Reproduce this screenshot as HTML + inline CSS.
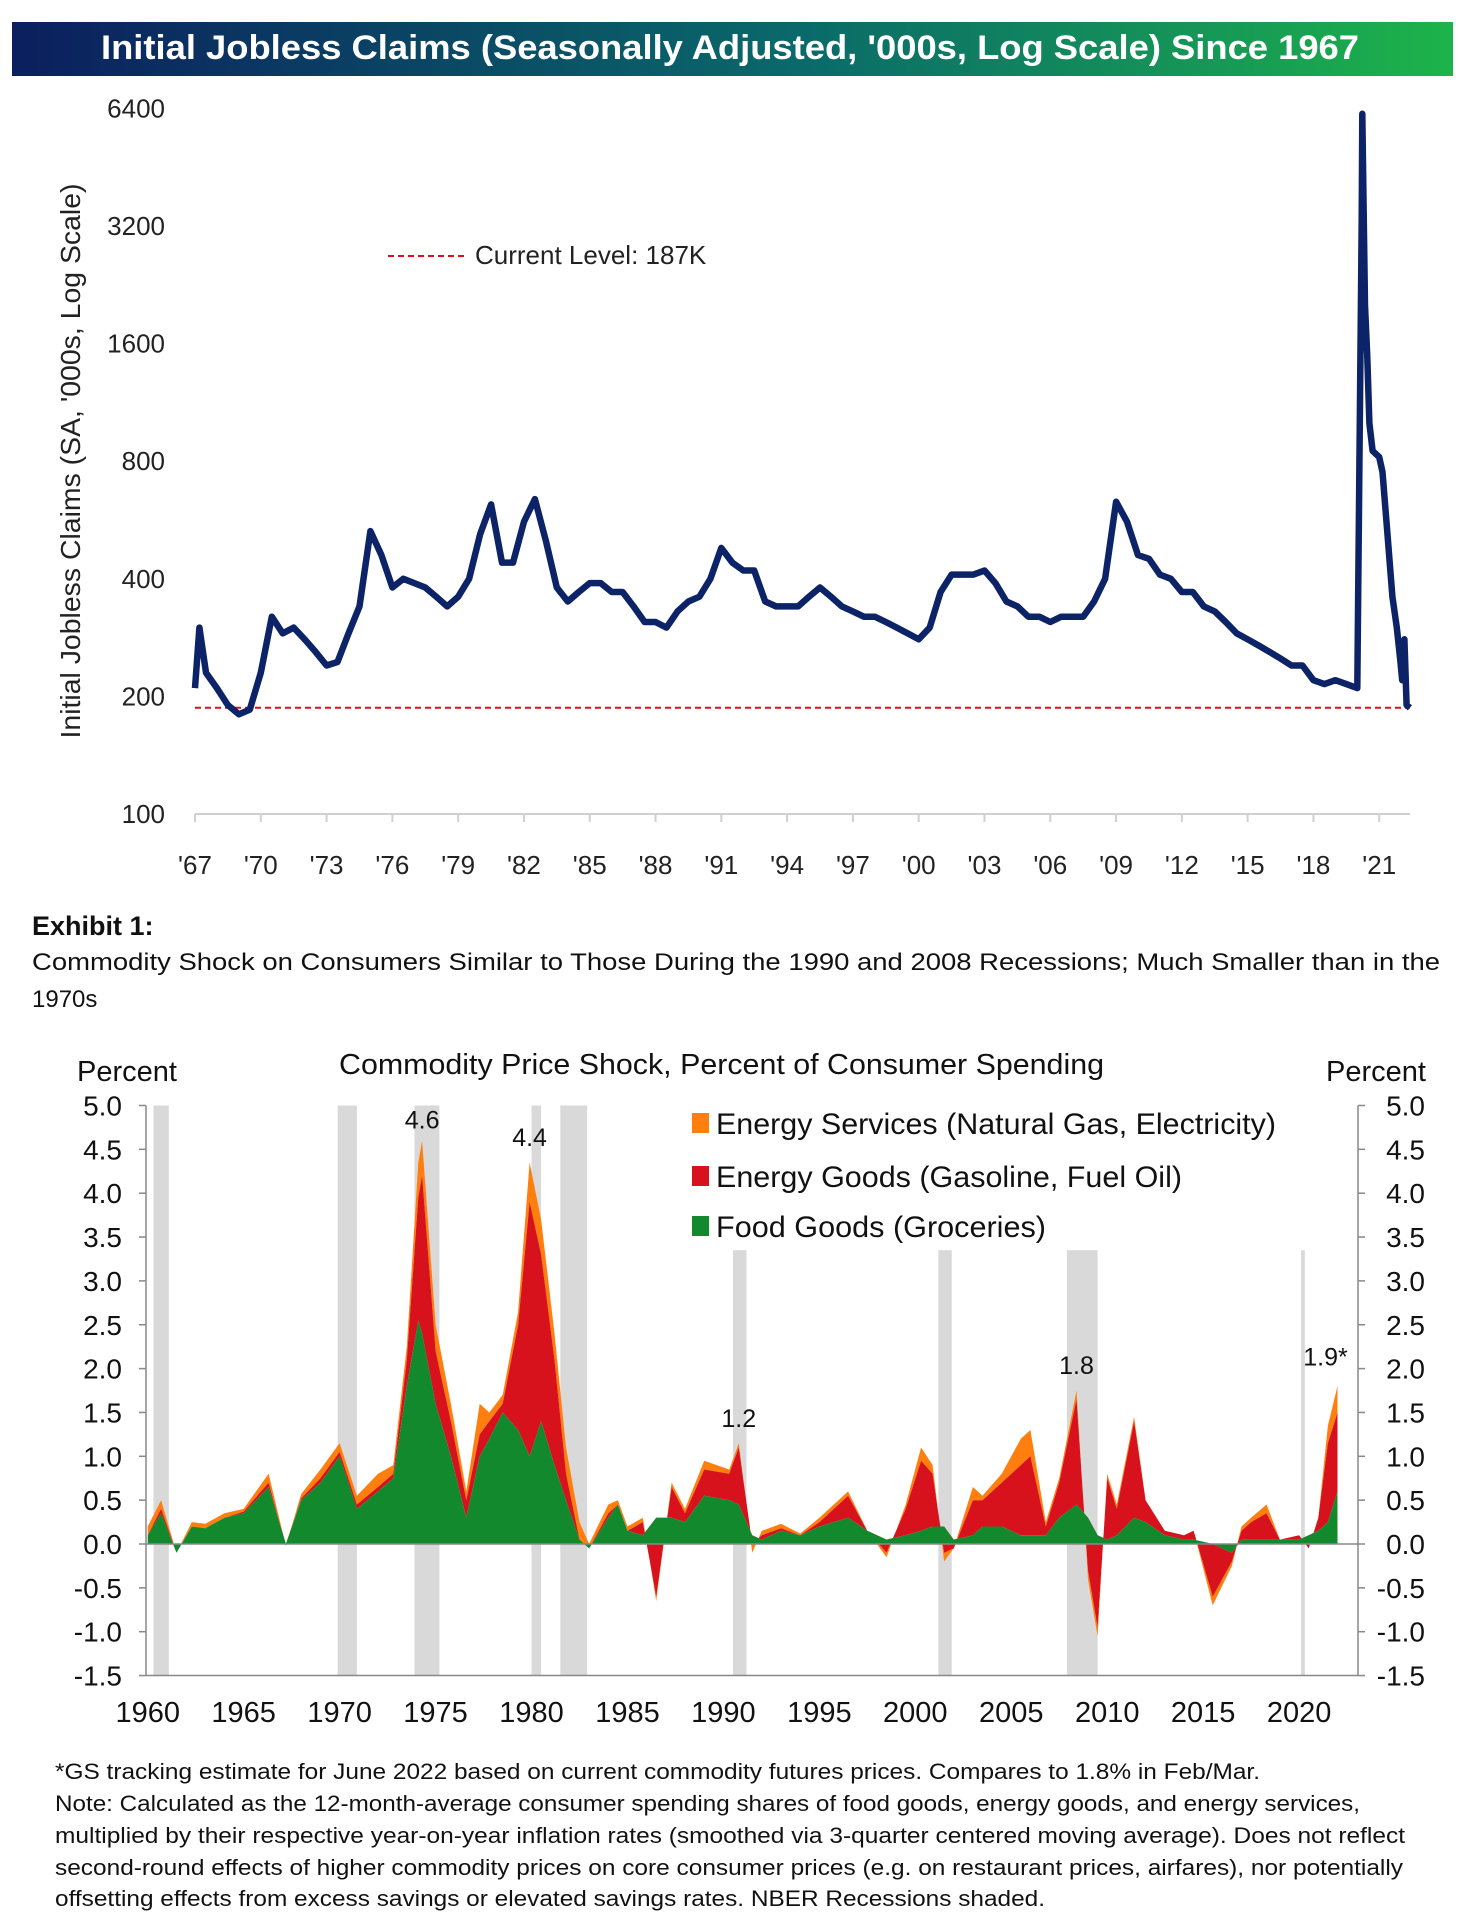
<!DOCTYPE html>
<html><head><meta charset="utf-8">
<style>
html,body{margin:0;padding:0;background:#fff;}
svg{display:block;font-family:"Liberation Sans",sans-serif;}
</style></head>
<body>
<svg id="root" width="1465" height="1928" viewBox="0 0 1465 1928" xmlns="http://www.w3.org/2000/svg">
<defs>
<linearGradient id="tg" x1="0" x2="1" y1="0" y2="0">
<stop offset="0" stop-color="#0b1f5e"/><stop offset="0.55" stop-color="#0a6a6a"/><stop offset="1" stop-color="#1db34a"/>
</linearGradient>
</defs>
<rect x="12" y="22" width="1441" height="54" fill="url(#tg)"/>
<text x="101" y="59" textLength="1258" lengthAdjust="spacingAndGlyphs" fill="#fff" font-size="34" font-weight="bold">Initial Jobless Claims (Seasonally Adjusted, '000s, Log Scale) Since 1967</text>
<g id="c1"></g>
<text x="32" y="935" font-size="27" font-weight="bold" fill="#111">Exhibit 1:</text>
<text x="32" y="970" font-size="24" fill="#111" textLength="1408" lengthAdjust="spacingAndGlyphs">Commodity Shock on Consumers Similar to Those During the 1990 and 2008 Recessions; Much Smaller than in the</text>
<text x="32" y="1007" font-size="24" fill="#111">1970s</text>
<g id="c2"></g>
<g font-size="22" fill="#111">
<text x="55" y="1779" textLength="1205" lengthAdjust="spacingAndGlyphs">*GS tracking estimate for June 2022 based on current commodity futures prices. Compares to 1.8% in Feb/Mar.</text>
<text x="55" y="1811" textLength="1305" lengthAdjust="spacingAndGlyphs">Note: Calculated as the 12-month-average consumer spending shares of food goods, energy goods, and energy services,</text>
<text x="55" y="1843" textLength="1350" lengthAdjust="spacingAndGlyphs">multiplied by their respective year-on-year inflation rates (smoothed via 3-quarter centered moving average).  Does not reflect</text>
<text x="55" y="1875" textLength="1348" lengthAdjust="spacingAndGlyphs">second-round effects of higher commodity prices on core consumer prices (e.g. on restaurant prices, airfares), nor potentially</text>
<text x="55" y="1906" textLength="990" lengthAdjust="spacingAndGlyphs">offsetting effects from excess savings or elevated savings rates. NBER Recessions shaded.</text>
</g>
</svg>
<script>
// ---- Chart 1 data ----
const claimYears = [1967,1967.2,1967.5,1968,1968.5,1969,1969.5,1970,1970.5,1971,1971.5,1972,1972.5,1973,1973.5,1974,1974.5,1975,1975.5,1976,1976.5,1977,1977.5,1978,1978.5,1979,1979.5,1980,1980.5,1981,1981.5,1982,1982.5,1983,1983.5,1984,1984.5,1985,1985.5,1986,1986.5,1987,1987.5,1988,1988.5,1989,1989.5,1990,1990.5,1991,1991.5,1992,1992.5,1993,1993.5,1994,1994.5,1995,1995.5,1996,1996.5,1997,1997.5,1998,1998.5,1999,1999.5,2000,2000.5,2001,2001.5,2002,2002.5,2003,2003.5,2004,2004.5,2005,2005.5,2006,2006.5,2007,2007.5,2008,2008.5,2009,2009.5,2010,2010.5,2011,2011.5,2012,2012.5,2013,2013.5,2014,2014.5,2015,2015.5,2016,2016.5,2017,2017.5,2018,2018.5,2019,2019.5,2020,2020.2,2020.23,2020.35,2020.45,2020.55,2020.7,2021,2021.15,2021.4,2021.6,2021.8,2021.95,2022.05,2022.15,2022.25,2022.4];
const claimValues = [210,300,230,210,190,180,185,230,320,290,300,280,260,240,245,290,340,530,460,380,400,390,380,360,340,360,400,520,620,440,440,560,640,500,380,350,370,390,390,370,370,340,310,310,300,330,350,360,400,480,440,420,420,350,340,340,340,360,380,360,340,330,320,320,310,300,290,280,300,370,410,410,410,420,390,350,340,320,320,310,320,320,320,350,400,630,560,460,450,410,400,370,370,340,330,310,290,280,270,260,250,240,240,220,215,220,215,210,3300,6200,2000,1500,1000,850,820,750,500,360,300,250,220,280,190,187];
const claimTicks = [100,200,400,800,1600,3200,6400];
const claimXTicks = ["'67","'70","'73","'76","'79","'82","'85","'88","'91","'94","'97","'00","'03","'06","'09","'12","'15","'18","'21"];
const currentLevel = 187;

// ---- Chart 2 data ----
const shockYears = [1960,1960.7,1961.5,1962.3,1963,1964,1965,1966.3,1967.2,1968,1969,1970,1970.9,1972,1972.8,1973.5,1974.1,1974.3,1975,1975.8,1976.6,1977.3,1977.8,1978.5,1979.3,1979.9,1980.5,1981.2,1981.8,1982.5,1983,1984,1984.5,1985,1985.8,1986.5,1987.3,1988,1989,1990.3,1990.8,1991.5,1992,1993,1994,1995,1996.5,1997.5,1998.5,1999.5,2000.3,2000.9,2001.5,2002,2003,2003.5,2004.5,2005.5,2006,2006.8,2007.5,2008.4,2009,2009.5,2010,2010.5,2011.4,2012,2013,2014,2014.5,2015.5,2016.5,2017,2017.5,2018.3,2019,2020,2020.5,2021,2021.5,2022];
const foodGoods = [0.1,0.35,-0.1,0.2,0.18,0.3,0.35,0.65,0.0,0.5,0.7,1.0,0.4,0.6,0.75,1.8,2.55,2.4,1.6,1.0,0.3,1.0,1.2,1.5,1.3,1.0,1.4,0.9,0.5,0.05,-0.05,0.3,0.45,0.15,0.1,0.3,0.3,0.25,0.55,0.5,0.45,0.1,0.05,0.15,0.1,0.2,0.3,0.15,0.05,0.1,0.15,0.2,0.2,0.05,0.1,0.2,0.2,0.1,0.1,0.1,0.3,0.45,0.3,0.1,0.05,0.1,0.3,0.25,0.1,0.05,0.05,0,-0.1,0.05,0.05,0.05,0.05,0.05,0.1,0.15,0.25,0.6];
const energyGoods = [0,0.05,0,0,0,0,0.02,0.05,-0.02,0.02,0.05,0.05,0.05,0.05,0.05,0.3,1.4,1.8,0.6,0.4,0.2,0.25,0.2,0.1,1.2,2.9,1.9,1.2,0.3,0,0,0.05,0,0,0.15,-0.9,0.35,0.1,0.3,0.3,0.65,-0.1,0.05,0.03,0,0.05,0.25,0,-0.15,0.3,0.8,0.6,-0.3,-0.1,0.4,0.3,0.5,0.8,0.9,0.1,0.4,1.2,-0.6,-1.05,0.7,0.3,1.1,0.25,0.05,0.05,0.1,-0.6,-0.1,0.1,0.2,0.3,0,0.05,-0.15,0.15,0.9,0.9];
const energyServices = [0.1,0.1,0,0.05,0.05,0.05,0.03,0.1,0,0.05,0.1,0.1,0.1,0.15,0.1,0.15,0.4,0.4,0.3,0.2,0.1,0.35,0.1,0.1,0.15,0.45,0.4,0.3,0.3,0.2,0.05,0.1,0.05,0.05,0.05,-0.05,0.05,0.05,0.1,0.05,0.05,-0.1,0.05,0.05,0.02,0.05,0.05,0,-0.05,0.05,0.15,0.1,-0.1,0,0.15,0.05,0.1,0.3,0.3,0.05,0.05,0.1,-0.1,-0.1,0.05,0.05,0.05,0,0,0,0,-0.1,-0.05,0.05,0.05,0.1,0,0,0,0,0.2,0.3];
const recessions = [[1960.3,1961.1,5],[1969.9,1970.9,5],[1973.9,1975.2,5],[1980.0,1980.5,5],[1981.5,1982.9,5],[1990.5,1991.2,3.35],[2001.2,2001.9,3.35],[2007.9,2009.5,3.35],[2020.1,2020.3,3.35]];
const shockTicks = ["-1.5","-1.0","-0.5","0.0","0.5","1.0","1.5","2.0","2.5","3.0","3.5","4.0","4.5","5.0"];
const shockXTicks = [1960,1965,1970,1975,1980,1985,1990,1995,2000,2005,2010,2015,2020];
const peakLabels = ["4.6","4.4","1.2","1.8","1.9*"];
const peakYears = [1974.3,1979.9,1990.8,2008.4,2022];
const peakValues = [4.6,4.4,1.2,1.8,1.9];

const NS = "http://www.w3.org/2000/svg";
function mk(parent, tag, attrs, text){
  const e = document.createElementNS(NS, tag);
  for (const k in attrs) e.setAttribute(k, attrs[k]);
  if (text !== undefined) e.textContent = text;
  parent.appendChild(e);
  return e;
}

// ===== Chart 1 =====
(function(){
  const g = document.getElementById('c1');
  const x0 = 195, yr0 = 1967, pxPerYr = 21.93;
  const yBase = 814, pxPerDouble = 117.6;
  const X = y => x0 + (y - yr0) * pxPerYr;
  const Y = v => yBase - Math.log2(v / 100) * pxPerDouble;
  const ax = mk(g, 'line', {x1: X(1967), x2: X(2022.4), y1: Y(100), y2: Y(100), stroke: '#d0d0d0', 'stroke-width': 2});
  
  
  claimXTicks.forEach((lab, i) => {
    const yr = 1967 + i * 3;
    const t = mk(g, 'line', {x1: X(yr), x2: X(yr), y1: Y(100), y2: Y(100) + 8, stroke: '#d0d0d0', 'stroke-width': 2});
    
    
    const tx = mk(g, 'text', {x: X(yr), y: 874, 'text-anchor': 'middle', 'font-size': 26, fill: '#222'}, lab);
    
    
  });
  claimTicks.forEach(v => {
    const tx = mk(g, 'text', {x: 165, y: Y(v) + 9, 'text-anchor': 'end', 'font-size': 26, fill: '#222'}, String(v));
    
    
  });
  const yt = mk(g, 'text', {x: 0, y: 0, transform: 'translate(80,461) rotate(-90)', 'text-anchor': 'middle', 'font-size': 28, fill: '#222', textLength: 555, lengthAdjust: 'spacingAndGlyphs'}, "Initial Jobless Claims (SA, '000s, Log Scale)");
  
  
  const cl = mk(g, 'line', {x1: X(1967), x2: X(2022.4), y1: Y(currentLevel), y2: Y(currentLevel), stroke: '#e0101a', 'stroke-width': 2, 'stroke-dasharray': '6,4'});
  
  
  const ll = mk(g, 'line', {x1: 388, x2: 468, y1: 256, y2: 256, stroke: '#e0101a', 'stroke-width': 2, 'stroke-dasharray': '6,4'});
  
  
  const lt = mk(g, 'text', {x: 475, y: 264, 'font-size': 26, fill: '#222'}, 'Current Level: 187K');
  
  
  const d = claimYears.map((yr, i) => (i ? 'L' : 'M') + X(yr).toFixed(1) + ',' + Y(claimValues[i]).toFixed(1)).join(' ');
  const p = mk(g, 'path', {d: d, fill: 'none', stroke: '#0d2367', 'stroke-width': 6.5, 'stroke-linejoin': 'round'});
  
  
})();

// ===== Chart 2 =====
(function(){
  const g = document.getElementById('c2');
  const xL = 146, xR = 1358;
  const X = y => 147.7 + (y - 1960) * 19.19;
  const Y = v => 1544 - v * 87.7;
  recessions.forEach(r => {
    const b = mk(g, 'rect', {x: X(r[0]), y: Y(r[2]), width: X(r[1]) - X(r[0]), height: Y(-1.5) - Y(r[2]), fill: '#d9d9d9'});
    
    
  });
  const c1 = foodGoods.slice();
  const c2 = foodGoods.map((v, i) => v + energyGoods[i]);
  const c3 = c2.map((v, i) => v + energyServices[i]);
  const zeros = foodGoods.map(() => 0);
  function band(lo, hi, color, name){
    let d = shockYears.map((yr, i) => (i ? 'L' : 'M') + X(yr).toFixed(1) + ',' + Y(hi[i]).toFixed(1)).join(' ');
    for (let i = shockYears.length - 1; i >= 0; i--) d += ' L' + X(shockYears[i]).toFixed(1) + ',' + Y(lo[i]).toFixed(1);
    const p = mk(g, 'path', {d: d + ' Z', fill: color});
    
    
  }
  band(c2, c3, '#ff7f0e', 'energy-services-area');
  band(c1, c2, '#d7121d', 'energy-goods-area');
  band(zeros, c1, '#13892e', 'food-goods-area');
  const z = mk(g, 'line', {x1: xL, x2: xR, y1: Y(0), y2: Y(0), stroke: '#888', 'stroke-width': 1.5});
  
  
  [xL, xR].forEach((xx, k) => {
    const a = mk(g, 'line', {x1: xx, x2: xx, y1: Y(5), y2: Y(-1.5), stroke: '#888', 'stroke-width': 1.5});
    
    
  });
  const bx = mk(g, 'line', {x1: xL, x2: xR, y1: Y(-1.5), y2: Y(-1.5), stroke: '#888', 'stroke-width': 1.5});
  
  
  shockTicks.forEach(lab => {
    const v = parseFloat(lab);
    const t1 = mk(g, 'line', {x1: xL - 7, x2: xL, y1: Y(v), y2: Y(v), stroke: '#888', 'stroke-width': 1.5});
    
    
    const t2 = mk(g, 'line', {x1: xR, x2: xR + 7, y1: Y(v), y2: Y(v), stroke: '#888', 'stroke-width': 1.5});
    
    
    const a = mk(g, 'text', {x: 122, y: Y(v) + 10, 'text-anchor': 'end', 'font-size': 28, fill: '#111'}, lab);
    
    
    const b = mk(g, 'text', {x: 1425, y: Y(v) + 10, 'text-anchor': 'end', 'font-size': 28, fill: '#111'}, lab);
    
    
  });
  shockXTicks.forEach(yr => {
    const t = mk(g, 'text', {x: X(yr), y: 1722, 'text-anchor': 'middle', 'font-size': 29, fill: '#111'}, String(yr));
    
    
  });
  const pl = mk(g, 'text', {x: 77, y: 1081, 'font-size': 29, fill: '#111'}, 'Percent');
  
  
  const pr = mk(g, 'text', {x: 1426, y: 1081, 'text-anchor': 'end', 'font-size': 29, fill: '#111'}, 'Percent');
  
  
  const ti = mk(g, 'text', {x: 339, y: 1074, 'font-size': 29, fill: '#111', textLength: 765, lengthAdjust: 'spacingAndGlyphs'}, 'Commodity Price Shock, Percent of Consumer Spending');
  
  
  const leg = [['#ff7f0e', 'Energy Services (Natural Gas, Electricity)', 1123, 560], ['#d7121d', 'Energy Goods (Gasoline, Fuel Oil)', 1176, 466], ['#13892e', 'Food Goods (Groceries)', 1226, 330]];
  leg.forEach(l => {
    const s = mk(g, 'rect', {x: 692, y: l[2] - 10, width: 17, height: 20, fill: l[0]});
    
    
    const t = mk(g, 'text', {x: 716, y: l[2] + 11, 'font-size': 30, fill: '#111', textLength: l[3], lengthAdjust: 'spacingAndGlyphs'}, l[1]);
    
    
  });
  peakLabels.forEach((lab, i) => {
    const t = mk(g, 'text', {x: X(peakYears[i]) + (i === 4 ? -12 : 0), y: Y(peakValues[i]) - 12, 'text-anchor': 'middle', 'font-size': 25, fill: '#111'}, lab);
    
    
  });
})();
</script>
</body></html>
